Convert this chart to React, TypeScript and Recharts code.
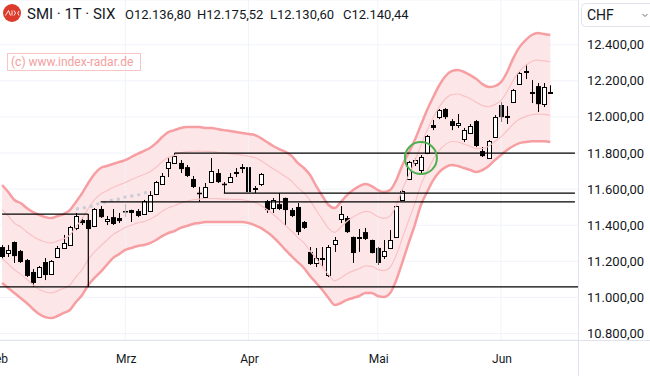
import React from 'react'
import {
  ComposedChart,
  Area,
  Line,
  Bar,
  XAxis,
  YAxis,
  CartesianGrid,
  ReferenceLine,
  ReferenceDot,
} from 'recharts'

// trading days (Feb 2 .. Jun 13, 2024) plus empty slots on the right
const dates = [
  '02.02.', '05.02.', '06.02.', '07.02.', '08.02.', '09.02.', '12.02.', '13.02.', '14.02.', '15.02.',
  '16.02.', '19.02.', '20.02.', '21.02.', '22.02.', '23.02.', '26.02.', '27.02.', '28.02.', '29.02.',
  '01.03.', '04.03.', '05.03.', '06.03.', '07.03.', '08.03.', '11.03.', '12.03.', '13.03.', '14.03.',
  '15.03.', '18.03.', '19.03.', '20.03.', '21.03.', '22.03.', '25.03.', '26.03.', '27.03.', '28.03.',
  '02.04.', '03.04.', '04.04.', '05.04.', '08.04.', '09.04.', '10.04.', '11.04.', '12.04.', '15.04.',
  '16.04.', '17.04.', '18.04.', '19.04.', '22.04.', '23.04.', '24.04.', '25.04.', '26.04.', '29.04.',
  '30.04.', '02.05.', '03.05.', '06.05.', '07.05.', '08.05.', '10.05.', '13.05.', '14.05.', '15.05.',
  '16.05.', '17.05.', '21.05.', '22.05.', '23.05.', '24.05.', '27.05.', '28.05.', '29.05.', '30.05.',
  '31.05.', '03.06.', '04.06.', '05.06.', '06.06.', '07.06.', '10.06.', '11.06.', '12.06.', '13.06.',
  '14.06.', '17.06.', '18.06.', '19.06.',
]

const open = [
  11279, 11246, 11307, 11257, 11207, 11141, 11113, 11196, 11130, 11224,
  11274, 11290, 11385, 11429, 11429, 11396, 11490, 11423, 11445, 11440,
  11479, 11484, 11479, 11462, 11479, 11573, 11628, 11717, 11745, 11745,
  11722, 11656, 11580, 11556, 11639, 11689, 11630, 11639, 11693, 11720,
  11722, 11604, 11628, 11534, 11495, 11517, 11551, 11484, 11501, 11418,
  11252, 11191, 11215, 11124, 11296, 11434, 11440, 11335, 11333, 11362,
  11318, 11274, 11229, 11274, 11335, 11540, 11656, 11745, 11706, 11800,
  11955, 11999, 12044, 11977, 11955, 11878, 11911, 11977, 11811, 11772,
  11889, 12066, 12002, 12083, 12182, 12250, 12136, 12171, 12071, 12136.8,
]
const high = [
  11290, 11290, 11310, 11263, 11213, 11157, 11174, 11218, 11207, 11285,
  11346, 11396, 11468, 11445, 11434, 11495, 11506, 11451, 11490, 11468,
  11517, 11486, 11490, 11540, 11589, 11645, 11689, 11772, 11800, 11761,
  11734, 11673, 11612, 11634, 11772, 11711, 11639, 11689, 11717, 11739,
  11756, 11617, 11689, 11540, 11551, 11578, 11553, 11495, 11523, 11423,
  11279, 11274, 11279, 11290, 11335, 11506, 11451, 11337, 11379, 11385,
  11320, 11279, 11318, 11373, 11508, 11601, 11756, 11772, 11789, 11900,
  11983, 12044, 12049, 11988, 12016, 11939, 11961, 11983, 11833, 11872,
  12010, 12083, 12060, 12155, 12249, 12293, 12204, 12188, 12188, 12175.52,
]
const low = [
  11213, 11224, 11191, 11191, 11113, 11058, 11108, 11096, 11124, 11218,
  11268, 11285, 11373, 11401, 11368, 11390, 11440, 11401, 11401, 11412,
  11445, 11418, 11445, 11457, 11473, 11567, 11623, 11667, 11739, 11689,
  11667, 11606, 11529, 11551, 11634, 11634, 11578, 11634, 11667, 11689,
  11580, 11578, 11617, 11468, 11468, 11484, 11396, 11445, 11346, 11379,
  11180, 11168, 11168, 11113, 11252, 11412, 11357, 11191, 11252, 11318,
  11244, 11180, 11213, 11268, 11329, 11534, 11650, 11728, 11689, 11794,
  11927, 11988, 11988, 11927, 11939, 11861, 11906, 11833, 11778, 11770,
  11887, 11972, 11961, 12077, 12177, 12210, 12077, 12027, 12055, 12130.6,
]
const close = [
  11224, 11263, 11229, 11196, 11119, 11080, 11168, 11124, 11202, 11274,
  11301, 11390, 11451, 11412, 11379, 11490, 11445, 11434, 11407, 11423,
  11473, 11468, 11451, 11534, 11567, 11639, 11673, 11750, 11783, 11711,
  11673, 11612, 11576, 11612, 11700, 11639, 11626, 11667, 11697, 11724,
  11584, 11608, 11684, 11484, 11540, 11490, 11484, 11451, 11362, 11385,
  11185, 11218, 11220, 11279, 11318, 11462, 11362, 11246, 11337, 11324,
  11246, 11191, 11257, 11318, 11506, 11589, 11750, 11761, 11778, 11894,
  11939, 12038, 11999, 11950, 11966, 11927, 11950, 11839, 11783, 11866,
  11999, 11999, 12006, 12149, 12243, 12255, 12140, 12071, 12166, 12140.44,
]

// Bollinger bands (outer and inner)
const bbUpper = [
  11623, 11584, 11540, 11523, 11495, 11473, 11457, 11445, 11440, 11451,
  11462, 11484, 11529, 11578, 11634, 11684, 11717, 11728, 11739, 11750,
  11761, 11778, 11795, 11811, 11828, 11855, 11889, 11916, 11927, 11939,
  11944, 11944, 11944, 11939, 11939, 11933, 11927, 11922, 11916, 11911,
  11905, 11900, 11883, 11861, 11839, 11822, 11806, 11784, 11745, 11717,
  11678, 11617, 11562, 11512, 11495, 11529, 11567, 11595, 11617, 11628,
  11617, 11595, 11584, 11595, 11650, 11734, 11800, 11872, 11955, 12038,
  12110, 12177, 12227, 12254, 12260, 12249, 12232, 12210, 12182, 12166,
  12171, 12193, 12249, 12326, 12387, 12426, 12454, 12465, 12459, 12454,
]
const bbUpperInner = [
  11487, 11451, 11411, 11391, 11363, 11339, 11320, 11307, 11302, 11313,
  11325, 11346, 11391, 11437, 11493, 11540, 11573, 11591, 11609, 11623,
  11637, 11652, 11667, 11681, 11696, 11721, 11752, 11776, 11787, 11801,
  11807, 11810, 11811, 11809, 11809, 11804, 11800, 11796, 11792, 11788,
  11782, 11775, 11759, 11736, 11713, 11692, 11670, 11645, 11608, 11579,
  11538, 11483, 11432, 11383, 11361, 11389, 11422, 11446, 11465, 11477,
  11469, 11448, 11438, 11452, 11512, 11600, 11675, 11754, 11844, 11925,
  11995, 12057, 12101, 12124, 12127, 12116, 12101, 12081, 12063, 12057,
  12069, 12092, 12141, 12204, 12254, 12285, 12307, 12315, 12311, 12306,
]
const bbLowerInner = [
  11216, 11185, 11153, 11129, 11101, 11070, 11045, 11030, 11025, 11036,
  11051, 11069, 11114, 11154, 11210, 11252, 11285, 11317, 11348, 11368,
  11388, 11400, 11413, 11420, 11433, 11452, 11477, 11497, 11508, 11524,
  11533, 11541, 11545, 11548, 11548, 11547, 11545, 11544, 11543, 11541,
  11535, 11526, 11510, 11487, 11461, 11431, 11399, 11368, 11333, 11302,
  11259, 11214, 11171, 11126, 11092, 11109, 11131, 11147, 11160, 11175,
  11172, 11155, 11148, 11167, 11235, 11331, 11426, 11519, 11623, 11698,
  11765, 11816, 11848, 11864, 11861, 11850, 11838, 11824, 11825, 11838,
  11864, 11890, 11925, 11961, 11988, 12002, 12013, 12016, 12014, 12009,
]
const bbLower = [
  11080, 11052, 11024, 10997, 10969, 10936, 10908, 10891, 10886, 10897,
  10914, 10930, 10975, 11013, 11069, 11108, 11141, 11180, 11218, 11240,
  11263, 11274, 11285, 11290, 11301, 11318, 11340, 11357, 11368, 11385,
  11396, 11407, 11412, 11418, 11418, 11418, 11418, 11418, 11418, 11418,
  11412, 11401, 11385, 11362, 11335, 11301, 11263, 11229, 11196, 11163,
  11119, 11080, 11041, 10997, 10958, 10969, 10986, 10997, 11008, 11024,
  11024, 11008, 11002, 11024, 11096, 11196, 11301, 11401, 11512, 11584,
  11650, 11695, 11722, 11734, 11728, 11717, 11706, 11695, 11706, 11728,
  11761, 11789, 11817, 11839, 11855, 11861, 11866, 11866, 11866, 11861,
]

// light grey dotted trend line (starts at index 12)
const trendStart = 12
const trendValues = [11490, 11495, 11501, 11512, 11523, 11529, 11540, 11545, 11556, 11562, 11567, 11578, 11584]

// drawn support / resistance lines
const levelValues = [11800, 11578, 11529]
const levelStarts = ['13.03.', '25.03.', '26.02.']
const boxTop = 11462
const boxBottom = 11058
const boxEnd = '22.02.'

const monthTicks = ['02.02.', '01.03.', '02.04.', '02.05.', '03.06.']
const monthLabels = ['Feb', 'Mrz', 'Apr', 'Mai', 'Jun']
const priceTicks = [10800, 11000, 11200, 11400, 11600, 11800, 12000, 12200, 12400]

const FONT = 'Roboto, "Open Sans", sans-serif'
const TEXT = '#131722'

function fmt(v: number) {
  const s = v.toFixed(2).split('.')
  return s[0].replace(/\B(?=(\d{3})+(?!\d))/g, '.') + ',' + s[1]
}

function Candle(props: any) {
  const { x, y, width, height, payload } = props
  if (!payload || payload.o == null) return null
  const { o, h, l, c } = payload
  const top = Math.min(y, y + height)
  const bottom = Math.max(y, y + height)
  const span = h - l || 1
  const py = (v: number) => top + ((h - v) / span) * (bottom - top)
  const cx = Math.floor(x + width / 2) + 0.5
  const yo = py(o)
  const yc = py(c)
  const bt = Math.min(yo, yc)
  const bb = Math.max(yo, yc)
  const up = c >= o
  return (
    <g>
      <line x1={cx} x2={cx} y1={top} y2={bottom} stroke="#000" strokeWidth={1} />
      {up ? (
        <rect x={cx - 2} y={Math.round(bt) + 0.5} width={4} height={Math.max(1, Math.round(bb - bt))} fill="#fff" stroke="#000" strokeWidth={1} />
      ) : (
        <rect x={cx - 2.5} y={bt} width={5} height={Math.max(1.5, bb - bt)} fill="#000" />
      )}
    </g>
  )
}

function YTick(props: any) {
  const { y, payload } = props
  return (
    <text x={587} y={y + 4.5} fontSize={13} fontFamily={FONT} fill={TEXT}>
      {fmt(payload.value)}
    </text>
  )
}

function XTick(props: any) {
  const { x, payload } = props
  const k = monthTicks.indexOf(payload.value)
  if (k < 0) return null
  if (k === 0) {
    return (
      <text x={8} y={363} textAnchor="end" fontSize={12} fontFamily={FONT} fill={TEXT}>
        {monthLabels[k]}
      </text>
    )
  }
  return (
    <text x={x + 1} y={363} textAnchor="middle" fontSize={12} fontFamily={FONT} fill={TEXT}>
      {monthLabels[k]}
    </text>
  )
}

export default function App() {
  const rows = dates.map((d, i) => ({
    date: d,
    o: open[i],
    h: high[i],
    l: low[i],
    c: close[i],
    range: open[i] == null ? null : [low[i], high[i]],
    band: bbUpper[i] == null ? null : [bbLower[i], bbUpper[i]],
    up: bbUpper[i] ?? null,
    upIn: bbUpperInner[i] ?? null,
    loIn: bbLowerInner[i] ?? null,
    lo: bbLower[i] ?? null,
    trend: i >= trendStart && i < trendStart + trendValues.length ? trendValues[i - trendStart] : null,
  }))
  const last = dates[dates.length - 1]

  return (
    <div style={{ position: 'absolute', left: 0, top: 0, width: 650, height: 376, background: '#fff', fontFamily: FONT }}>
      <ComposedChart width={650} height={376} data={rows} margin={{ top: 0, right: 0, bottom: 0, left: -1 }}>
        <CartesianGrid vertical={false} stroke="#f0f3fa" />
        {monthTicks.slice(1).map((m) => (
          <ReferenceLine key={m} x={m} stroke="#f0f3fa" />
        ))}
        <XAxis
          dataKey="date"
          height={36}
          ticks={monthTicks}
          interval={0}
          tick={<XTick />}
          tickLine={false}
          axisLine={false}
        />
        <YAxis
          orientation="right"
          width={72}
          domain={[10764, 12648]}
          allowDataOverflow
          ticks={priceTicks}
          tick={<YTick />}
          tickLine={false}
          axisLine={false}
        />
        <Area dataKey="band" stroke="none" fill="#fde6e8" fillOpacity={1} dot={false} activeDot={false} isAnimationActive={false} type="monotone" />
        <Line dataKey="upIn" stroke="#f9c2c5" strokeWidth={1.2} dot={false} activeDot={false} type="monotone" isAnimationActive={false} />
        <Line dataKey="loIn" stroke="#f9c2c5" strokeWidth={1.2} dot={false} activeDot={false} type="monotone" isAnimationActive={false} />
        <Line dataKey="up" stroke="#f69ea1" strokeWidth={2.5} dot={false} activeDot={false} type="monotone" isAnimationActive={false} />
        <Line dataKey="lo" stroke="#f69ea1" strokeWidth={2.5} dot={false} activeDot={false} type="monotone" isAnimationActive={false} />
        <Line dataKey="trend" stroke="#c9cdd8" strokeWidth={3} strokeDasharray="3 4" dot={false} activeDot={false} type="monotone" isAnimationActive={false} />
        {levelValues.map((v, k) => (
          <ReferenceLine key={v} segment={[{ x: levelStarts[k], y: v }, { x: last, y: v }]} stroke="#000" strokeWidth={1.2} ifOverflow="visible" />
        ))}
        <ReferenceLine segment={[{ x: dates[0], y: boxTop }, { x: boxEnd, y: boxTop }]} stroke="#000" strokeWidth={1.2} ifOverflow="visible" />
        <ReferenceLine segment={[{ x: boxEnd, y: boxTop }, { x: boxEnd, y: boxBottom }]} stroke="#000" strokeWidth={1.2} ifOverflow="visible" />
        <ReferenceLine y={boxBottom} stroke="#000" strokeWidth={1.2} />
        <Bar dataKey="range" barSize={5} shape={<Candle />} isAnimationActive={false} />
        <ReferenceDot x="14.05." y={11772} r={16} fill="none" stroke="#4caf50" strokeWidth={2} ifOverflow="visible" />
      </ComposedChart>
      <svg width={650} height={376} style={{ position: 'absolute', left: 0, top: 0, pointerEvents: 'none' }}>
        <line x1={578.5} x2={578.5} y1={0} y2={376} stroke="#e0e3eb" />
        <line x1={0} x2={650} y1={340.5} y2={340.5} stroke="#e0e3eb" />
        <circle cx={12} cy={13} r={9} fill="#dc3a2a" />
        <path d="M5.5 15.5 L8.5 10.5 L10.5 15.5 M12 10.5 L12 15.5 M14 10.5 Q17 13 14 15.5 M19 11 Q16.5 13 19 15.5" stroke="#fff" strokeWidth={0.9} fill="none" />
        <text x={27} y={19} fontSize={15} fontFamily={FONT} fill={TEXT}>SMI · 1T · SIX</text>
        <text x={125} y={18.5} fontSize={13} fontFamily={FONT} fill={TEXT}>O12.136,80</text>
        <text x={197} y={18.5} fontSize={13} fontFamily={FONT} fill={TEXT}>H12.175,52</text>
        <text x={270} y={18.5} fontSize={13} fontFamily={FONT} fill={TEXT}>L12.130,60</text>
        <text x={343} y={18.5} fontSize={13} fontFamily={FONT} fill={TEXT}>C12.140,44</text>
        <rect x={7.5} y={53.5} width={133} height={17} fill="none" stroke="#f8c4c4" />
        <text x={11} y={66} fontSize={12} fontFamily={FONT} fill="#f3a0a0">(c) www.index-radar.de</text>
        <rect x={581.5} y={3.5} width={80} height={23} rx={4} fill="#fff" stroke="#e0e3eb" />
        <text x={587} y={20} fontSize={14} fontFamily={FONT} fill={TEXT}>CHF</text>
        <path d="M642.5 14 L645 16.5 L647.5 14" stroke="#6a6d78" strokeWidth={1} fill="none" />
      </svg>
    </div>
  )
}
